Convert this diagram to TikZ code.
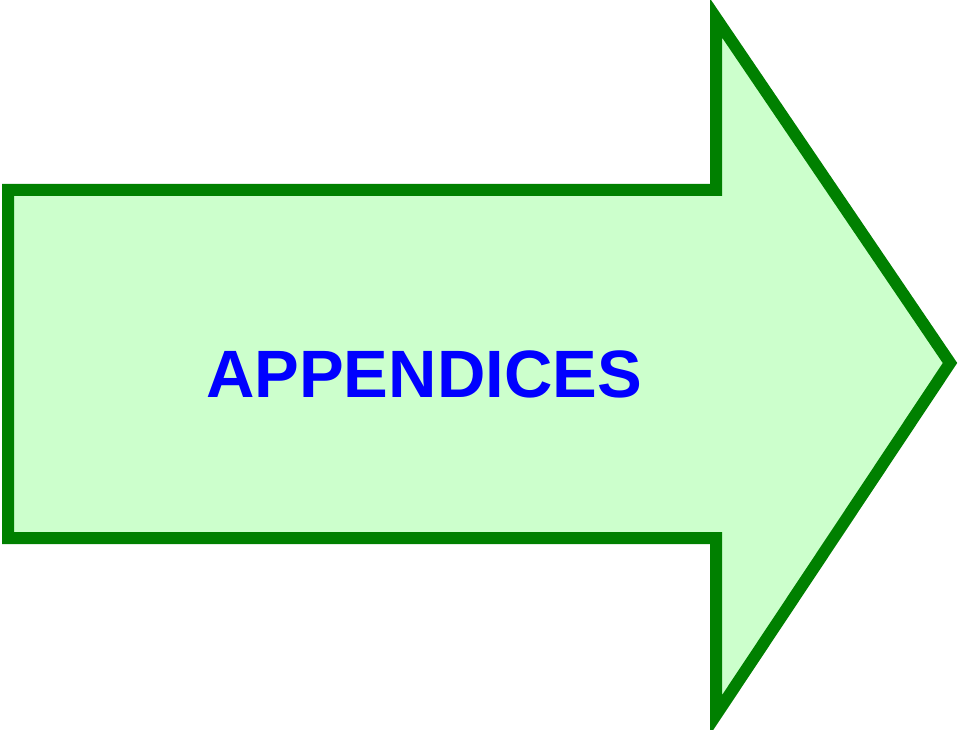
\documentclass[tikz,border=0pt]{standalone}
\usepackage{fontspec}
\setmainfont{Liberation Sans}
\definecolor{arrowline}{RGB}{0,128,0}
\definecolor{arrowfill}{RGB}{204,255,204}
\definecolor{labelblue}{RGB}{0,0,255}
\begin{document}
\begin{tikzpicture}[x=1pt,y=-1pt,
  bigarrow/.style={draw=arrowline,fill=arrowfill,line width=12pt,line join=miter,miter limit=10},
  label/.style={text=labelblue,font=\fontsize{67}{80}\selectfont\bfseries,inner sep=0pt}]
\useasboundingbox (0,0) rectangle (959,730);
\draw[bigarrow] (8,190) -- (716,190) -- (716,18) -- (950,363) -- (716,715) -- (716,538) -- (8,538) -- cycle;
\node[label,anchor=base] (t) at (424,397) {APPENDICES};
\end{tikzpicture}
\end{document}
